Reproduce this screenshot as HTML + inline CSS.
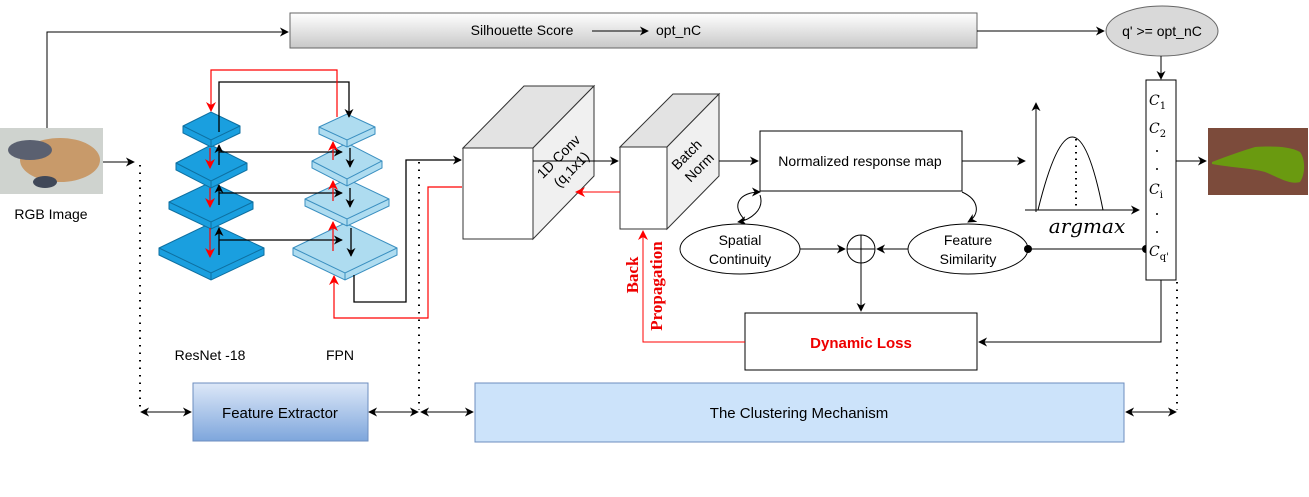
<!DOCTYPE html>
<html><head><meta charset="utf-8"><style>
body{margin:0;background:#fff;}
svg{display:block;font-family:"Liberation Sans",sans-serif;}
</style></head><body>
<svg width="1309" height="497" viewBox="0 0 1309 497" xmlns="http://www.w3.org/2000/svg">
<defs>
<marker id="a" viewBox="0 0 10 10" refX="9" refY="5" markerWidth="9" markerHeight="9" orient="auto-start-reverse" markerUnits="userSpaceOnUse"><path d="M0,0 L10,5 L0,10 L3,5z" fill="#000"/></marker>
<marker id="r" viewBox="0 0 10 10" refX="9" refY="5" markerWidth="10" markerHeight="10" orient="auto" markerUnits="userSpaceOnUse"><path d="M0,0 L10,5 L0,10 L3,5z" fill="#f00"/></marker>
<linearGradient id="g1" x1="0" y1="0" x2="0" y2="1"><stop offset="0" stop-color="#fff"/><stop offset="1" stop-color="#c8c8c8"/></linearGradient>
<linearGradient id="g2" x1="0" y1="0" x2="0" y2="1"><stop offset="0" stop-color="#dde8f8"/><stop offset="1" stop-color="#7ea6dc"/></linearGradient>
</defs>

<rect x="0" y="128" width="103" height="66" fill="#cfd3cf"/>
<ellipse cx="60" cy="160" rx="40" ry="22" fill="#c89a6a"/>
<ellipse cx="30" cy="150" rx="22" ry="10" fill="#5a6070"/>
<ellipse cx="45" cy="182" rx="12" ry="6" fill="#404858"/>
<text x="51" y="219" font-size="14" text-anchor="middle">RGB Image</text>
<line x1="103" y1="162" x2="134" y2="162" stroke="#000" marker-end="url(#a)"/>
<polyline points="47,128 47,32 288,32" fill="none" stroke="#000" marker-end="url(#a)"/>

<rect x="290" y="13" width="687" height="35" fill="url(#g1)" stroke="#666"/>
<text x="522" y="35" font-size="14" text-anchor="middle">Silhouette Score</text>
<line x1="592" y1="31" x2="648" y2="31" stroke="#000" marker-end="url(#a)"/>
<text x="656" y="35" font-size="14">opt_nC</text>
<line x1="977" y1="31" x2="1104" y2="31" stroke="#000" marker-end="url(#a)"/>
<ellipse cx="1162" cy="31" rx="56" ry="25" fill="#d9d9d9" stroke="#666"/>
<text x="1162" y="36" font-size="14" text-anchor="middle">q' &gt;= opt_nC</text>
<line x1="1161" y1="56" x2="1161" y2="79" stroke="#000" marker-end="url(#a)"/>

<g fill="#1a9fdf" stroke="#0e6fa0" stroke-width="1">
<path d="M159,248 L211,223 L264,248 L264,255 L211,280 L159,255z"/><path d="M159,248 L211,273 L264,248" fill="none"/><line x1="211" y1="273" x2="211" y2="280"/>
<path d="M169,202 L211,182 L253,202 L253,209 L211,229 L169,209z"/><path d="M169,202 L211,222 L253,202" fill="none"/><line x1="211" y1="222" x2="211" y2="229"/>
<path d="M176,163 L211,145 L247,163 L247,170 L211,188 L176,170z"/><path d="M176,163 L211,181 L247,163" fill="none"/><line x1="211" y1="181" x2="211" y2="188"/>
<path d="M183,126 L211,112 L240,126 L240,133 L211,147 L183,133z"/><path d="M183,126 L211,140 L240,126" fill="none"/><line x1="211" y1="140" x2="211" y2="147"/>
</g>
<g fill="#aedcf0" stroke="#3a8fc0" stroke-width="1">
<path d="M293,248 L345,223 L397,248 L397,255 L345,280 L293,255z"/><path d="M293,248 L345,273 L397,248" fill="none"/><line x1="345" y1="273" x2="345" y2="280"/>
<path d="M305,199 L347,179 L389,199 L389,206 L347,226 L305,206z"/><path d="M305,199 L347,219 L389,199" fill="none"/><line x1="347" y1="219" x2="347" y2="226"/>
<path d="M312,161 L347,143 L382,161 L382,168 L347,186 L312,168z"/><path d="M312,161 L347,179 L382,161" fill="none"/><line x1="347" y1="179" x2="347" y2="186"/>
<path d="M319,127 L347,114 L375,127 L375,134 L347,147 L319,134z"/><path d="M319,127 L347,140 L375,127" fill="none"/><line x1="347" y1="140" x2="347" y2="147"/>
</g>
<g stroke="#000" stroke-width="1.3" fill="none">
<polyline points="219,132 219,82 349,82 349,117" marker-end="url(#a)"/>
<line x1="219" y1="165" x2="219" y2="145" marker-end="url(#a)"/>
<line x1="219" y1="205" x2="219" y2="185" marker-end="url(#a)"/>
<line x1="219" y1="255" x2="219" y2="228" marker-end="url(#a)"/>
<line x1="219" y1="152" x2="342" y2="152" marker-end="url(#a)"/>
<line x1="219" y1="193" x2="342" y2="193" marker-end="url(#a)"/>
<line x1="219" y1="240" x2="342" y2="240" marker-end="url(#a)"/>
<line x1="350" y1="148" x2="350" y2="167" marker-end="url(#a)"/>
<line x1="350" y1="188" x2="350" y2="207" marker-end="url(#a)"/>
<line x1="351" y1="228" x2="351" y2="256" marker-end="url(#a)"/>
<polyline points="354,275 354,302 406,302 406,160 461,160" marker-end="url(#a)"/>
</g>
<g stroke="#f00" stroke-width="1.2" fill="none">
<polyline points="337,117 337,70 211,70 211,111" marker-end="url(#r)"/>
<line x1="210" y1="148" x2="210" y2="168" marker-end="url(#r)"/>
<line x1="210" y1="188" x2="210" y2="207" marker-end="url(#r)"/>
<line x1="210" y1="228" x2="210" y2="257" marker-end="url(#r)"/>
<line x1="333" y1="160" x2="333" y2="142" marker-end="url(#r)"/>
<line x1="333" y1="201" x2="333" y2="181" marker-end="url(#r)"/>
<line x1="333" y1="251" x2="333" y2="222" marker-end="url(#r)"/>
<polyline points="462,187 428,187 428,318 334,318 334,276" marker-end="url(#r)"/>
</g>
<text x="210" y="360" font-size="14" text-anchor="middle">ResNet -18</text>
<text x="340" y="360" font-size="14" text-anchor="middle">FPN</text>

<g stroke="#000" stroke-width="2" stroke-dasharray="1.5,6" fill="none">
<line x1="140" y1="165" x2="140" y2="410"/>
<line x1="419" y1="162" x2="419" y2="410"/>
<line x1="1177" y1="282" x2="1177" y2="410"/>
</g>
<g stroke="#000" fill="none">
<line x1="141" y1="412" x2="191" y2="412" marker-start="url(#a)" marker-end="url(#a)"/>
<line x1="369" y1="412" x2="418" y2="412" marker-start="url(#a)" marker-end="url(#a)"/>
<line x1="421" y1="412" x2="473" y2="412" marker-start="url(#a)" marker-end="url(#a)"/>
<line x1="1126" y1="412" x2="1176" y2="412" marker-start="url(#a)" marker-end="url(#a)"/>
</g>
<rect x="193" y="383" width="175" height="58" fill="url(#g2)" stroke="#6c8ebf"/>
<text x="280" y="418" font-size="15" text-anchor="middle">Feature Extractor</text>
<rect x="475" y="383" width="649" height="59" fill="#cce3fa" stroke="#6c8ebf"/>
<text x="799" y="418" font-size="15" text-anchor="middle">The Clustering Mechanism</text>

<g stroke="#333" stroke-width="1">
<path d="M463,148 L524,86 L594,86 L533,148z" fill="#e3e3e3"/>
<path d="M533,148 L594,86 L594,176 L533,239z" fill="#f0f0f0"/>
<rect x="463" y="148" width="70" height="91" fill="#fff"/>
</g>
<text transform="translate(562,160) rotate(-45)" font-size="14" text-anchor="middle"><tspan x="0" y="0">1D Conv</tspan><tspan x="0" y="18">(q,1x1)</tspan></text>
<g stroke="#333" stroke-width="1">
<path d="M620,147 L673,94 L719,94 L667,147z" fill="#e3e3e3"/>
<path d="M667,147 L719,94 L719,176 L667,229z" fill="#f0f0f0"/>
<rect x="620" y="147" width="47" height="82" fill="#fff"/>
</g>
<text transform="translate(690,158) rotate(-45)" font-size="14" text-anchor="middle"><tspan x="0" y="0">Batch</tspan><tspan x="0" y="18">Norm</tspan></text>
<line x1="533" y1="161" x2="618" y2="161" stroke="#000" marker-end="url(#a)"/>
<line x1="620" y1="192" x2="576" y2="192" stroke="#f00" marker-end="url(#r)"/>
<line x1="719" y1="161" x2="758" y2="161" stroke="#000" marker-end="url(#a)"/>

<rect x="760" y="131" width="202" height="60" fill="#fff" stroke="#000"/>
<text x="860" y="166" font-size="14" text-anchor="middle">Normalized response map</text>
<line x1="962" y1="161" x2="1025" y2="161" stroke="#000" marker-end="url(#a)"/>
<path d="M745,220 C730,205 740,192 760,192" fill="none" stroke="#000" marker-end="url(#a)"/>
<path d="M760,195 C765,210 750,220 738,222" fill="none" stroke="#000" marker-end="url(#a)"/>
<path d="M962,192 C980,200 980,215 968,222" fill="none" stroke="#000" marker-end="url(#a)"/>

<ellipse cx="740" cy="249" rx="60" ry="25" fill="#fff" stroke="#000"/>
<text x="740" y="245" font-size="14" text-anchor="middle">Spatial</text>
<text x="740" y="264" font-size="14" text-anchor="middle">Continuity</text>
<ellipse cx="968" cy="249" rx="60" ry="25" fill="#fff" stroke="#000"/>
<text x="968" y="245" font-size="14" text-anchor="middle">Feature</text>
<text x="968" y="264" font-size="14" text-anchor="middle">Similarity</text>
<circle cx="861" cy="249" r="14" fill="#fff" stroke="#000"/>
<line x1="847" y1="249" x2="875" y2="249" stroke="#000"/><line x1="861" y1="235" x2="861" y2="263" stroke="#000"/>
<line x1="800" y1="249" x2="845" y2="249" stroke="#000" marker-end="url(#a)"/>
<line x1="908" y1="249" x2="877" y2="249" stroke="#000" marker-end="url(#a)"/>
<line x1="861" y1="263" x2="861" y2="311" stroke="#000" marker-end="url(#a)"/>
<line x1="1028" y1="249" x2="1146" y2="249" stroke="#000"/>
<circle cx="1028" cy="249" r="4"/><circle cx="1146" cy="249" r="4"/>

<rect x="745" y="313" width="232" height="57" fill="#fff" stroke="#000"/>
<text x="861" y="348" font-size="15" font-weight="bold" fill="#e00" text-anchor="middle">Dynamic Loss</text>
<polyline points="745,342 643,342 643,231" fill="none" stroke="#f00" marker-end="url(#r)"/>
<text transform="translate(638,275) rotate(-90)" font-family="Liberation Serif,serif" font-size="17" font-weight="bold" fill="#e00" text-anchor="middle">Back</text>
<text transform="translate(662,286) rotate(-90)" font-family="Liberation Serif,serif" font-size="17" font-weight="bold" fill="#e00" text-anchor="middle">Propagation</text>
<polyline points="1161,280 1161,342 979,342" fill="none" stroke="#000" marker-end="url(#a)"/>

<line x1="1036" y1="212" x2="1036" y2="103" stroke="#000" marker-end="url(#a)"/>
<line x1="1025" y1="210" x2="1139" y2="210" stroke="#000" marker-end="url(#a)"/>
<path d="M1038,210 Q1074,64 1103,210" fill="none" stroke="#000"/>
<line x1="1076" y1="139" x2="1076" y2="210" stroke="#000" stroke-width="2" stroke-dasharray="1.5,5"/>
<text x="1087" y="233" font-family="DejaVu Serif,serif" font-style="italic" font-size="20" text-anchor="middle">argmax</text>

<rect x="1146" y="80" width="30" height="200" fill="#fff" stroke="#000"/>
<g font-family="DejaVu Serif,serif" font-style="italic" font-size="14">
<text x="1149" y="105">C<tspan font-style="normal" font-size="10" dy="4">1</tspan></text>
<text x="1149" y="133">C<tspan font-style="normal" font-size="10" dy="4">2</tspan></text>
<text x="1149" y="194">C<tspan font-style="normal" font-size="10" dy="4">i</tspan></text>
<text x="1149" y="256">C<tspan font-style="normal" font-size="10" dy="4">q'</tspan></text>
</g>
<g fill="#000"><circle cx="1157" cy="151" r="1"/><circle cx="1157" cy="169" r="1"/><circle cx="1157" cy="214" r="1"/><circle cx="1157" cy="232" r="1"/></g>
<line x1="1176" y1="161" x2="1206" y2="161" stroke="#000" marker-end="url(#a)"/>
<rect x="1208" y="128" width="100" height="67" fill="#7c4b3b"/>
<path d="M1212,162 C1230,155 1245,150 1255,147 C1270,146 1290,146 1300,152 C1306,160 1305,175 1300,182 C1290,185 1280,178 1265,172 C1250,168 1235,168 1212,164z" fill="#6a9a10"/>
</svg>
</body></html>
